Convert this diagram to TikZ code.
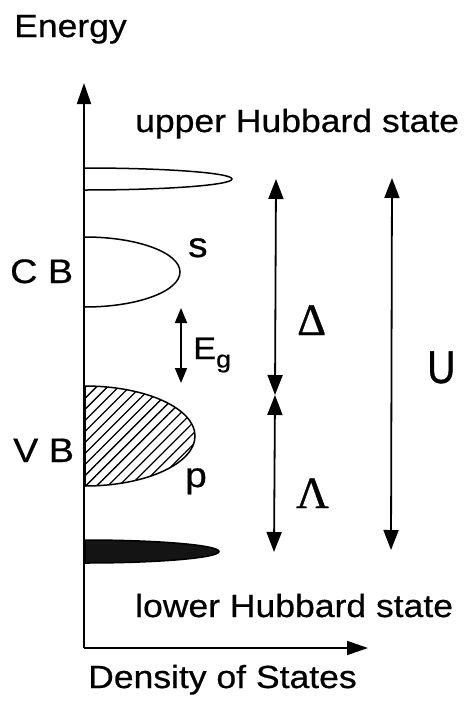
\documentclass[tikz,border=0pt]{standalone}
\usepackage{fontspec}
\setmainfont{Liberation Sans}[FakeStretch=1.11,FakeBold=0.6]
\newfontfamily\grk{Liberation Serif}[FakeBold=0.8]
\newfontfamily\narrowsans{Liberation Sans}[FakeStretch=0.85,FakeBold=0.8]
\usetikzlibrary{arrows.meta,patterns.meta}
\begin{document}
\begin{tikzpicture}[x=1pt,y=-1pt,
  lbl/.style={inner sep=0pt,anchor=base west,font=\fontsize{32}{38}\selectfont},
  axisline/.style={line width=1.8pt,-{Triangle[length=21pt,width=14pt]}},
  dbl/.style={line width=1.8pt,{Triangle[length=20pt,width=15pt]}-{Triangle[length=20pt,width=15pt]}},
  smalldbl/.style={line width=1.8pt,{Triangle[length=15pt,width=12pt]}-{Triangle[length=15pt,width=12pt]}},
  band/.style={line width=1.5pt}]
\useasboundingbox (0,0) rectangle (474,704);
% axes
\coordinate (O) at (84,648);
\coordinate (Etop) at (84,83);
\coordinate (Dright) at (368,648);
\draw[axisline] (O) -- (Etop);
\draw[axisline] (O) -- (Dright);
% bands
\draw[band] (85,168) arc[start angle=90,end angle=-90,x radius=147pt,y radius=11pt];
\draw[band] (85,237) arc[start angle=90,end angle=-90,x radius=95pt,y radius=35pt];
\draw[band,pattern={Lines[angle=45,distance=7.8pt,line width=1.3pt]}] (85,386) arc[start angle=90,end angle=-90,x radius=110pt,y radius=50pt] -- cycle;
\draw[band,fill=black!92] (85,540) arc[start angle=90,end angle=-90,x radius=134pt,y radius=11.5pt] -- cycle;
% arrows
\coordinate (Dtop) at (276,179);
\coordinate (Mid) at (275,395);
\coordinate (Lbot) at (274,552);
\draw[dbl] (Dtop) -- (Mid);
\draw[dbl] (Mid) -- (Lbot);
\coordinate (Utop) at (392,178);
\coordinate (Ubot) at (391,550);
\draw[dbl] (Utop) -- (Ubot);
\coordinate (Gtop) at (181,308);
\coordinate (Gbot) at (181,383);
\draw[smalldbl] (Gtop) -- (Gbot);
% labels
\node[lbl] (energy) at (14,37) {Energy};
\node[lbl] (uhs) at (135,132) {upper Hubbard state};
\node[lbl,font=\fontsize{34}{40}\selectfont] (cb) at (10,283) {C B};
\node[lbl,font=\fontsize{34}{40}\selectfont] (vb) at (13,462) {V B};
\node[lbl,font=\fontsize{35}{40}\selectfont] (s) at (188,257) {s};
\node[lbl,font=\fontsize{31}{36}\selectfont] (eg) at (193,359) {E\raisebox{-8.5pt}{\fontsize{24}{28}\selectfont g}};
\node[lbl,font=\fontsize{35}{40}\selectfont] (p) at (185,487) {p};
\node[lbl,font=\grk\fontsize{45}{50}\selectfont] (delta) at (297,335) {Δ};
\node[lbl,font=\grk\fontsize{45}{50}\selectfont] (lambda) at (296,508) {Λ};
\node[lbl,font=\narrowsans\fontsize{46}{50}\selectfont] (U) at (427,383) {U};
\node[lbl] (lhs) at (135,617) {lower Hubbard state};
\node[lbl] (dos) at (88,688) {Density of States};
\end{tikzpicture}
\end{document}
